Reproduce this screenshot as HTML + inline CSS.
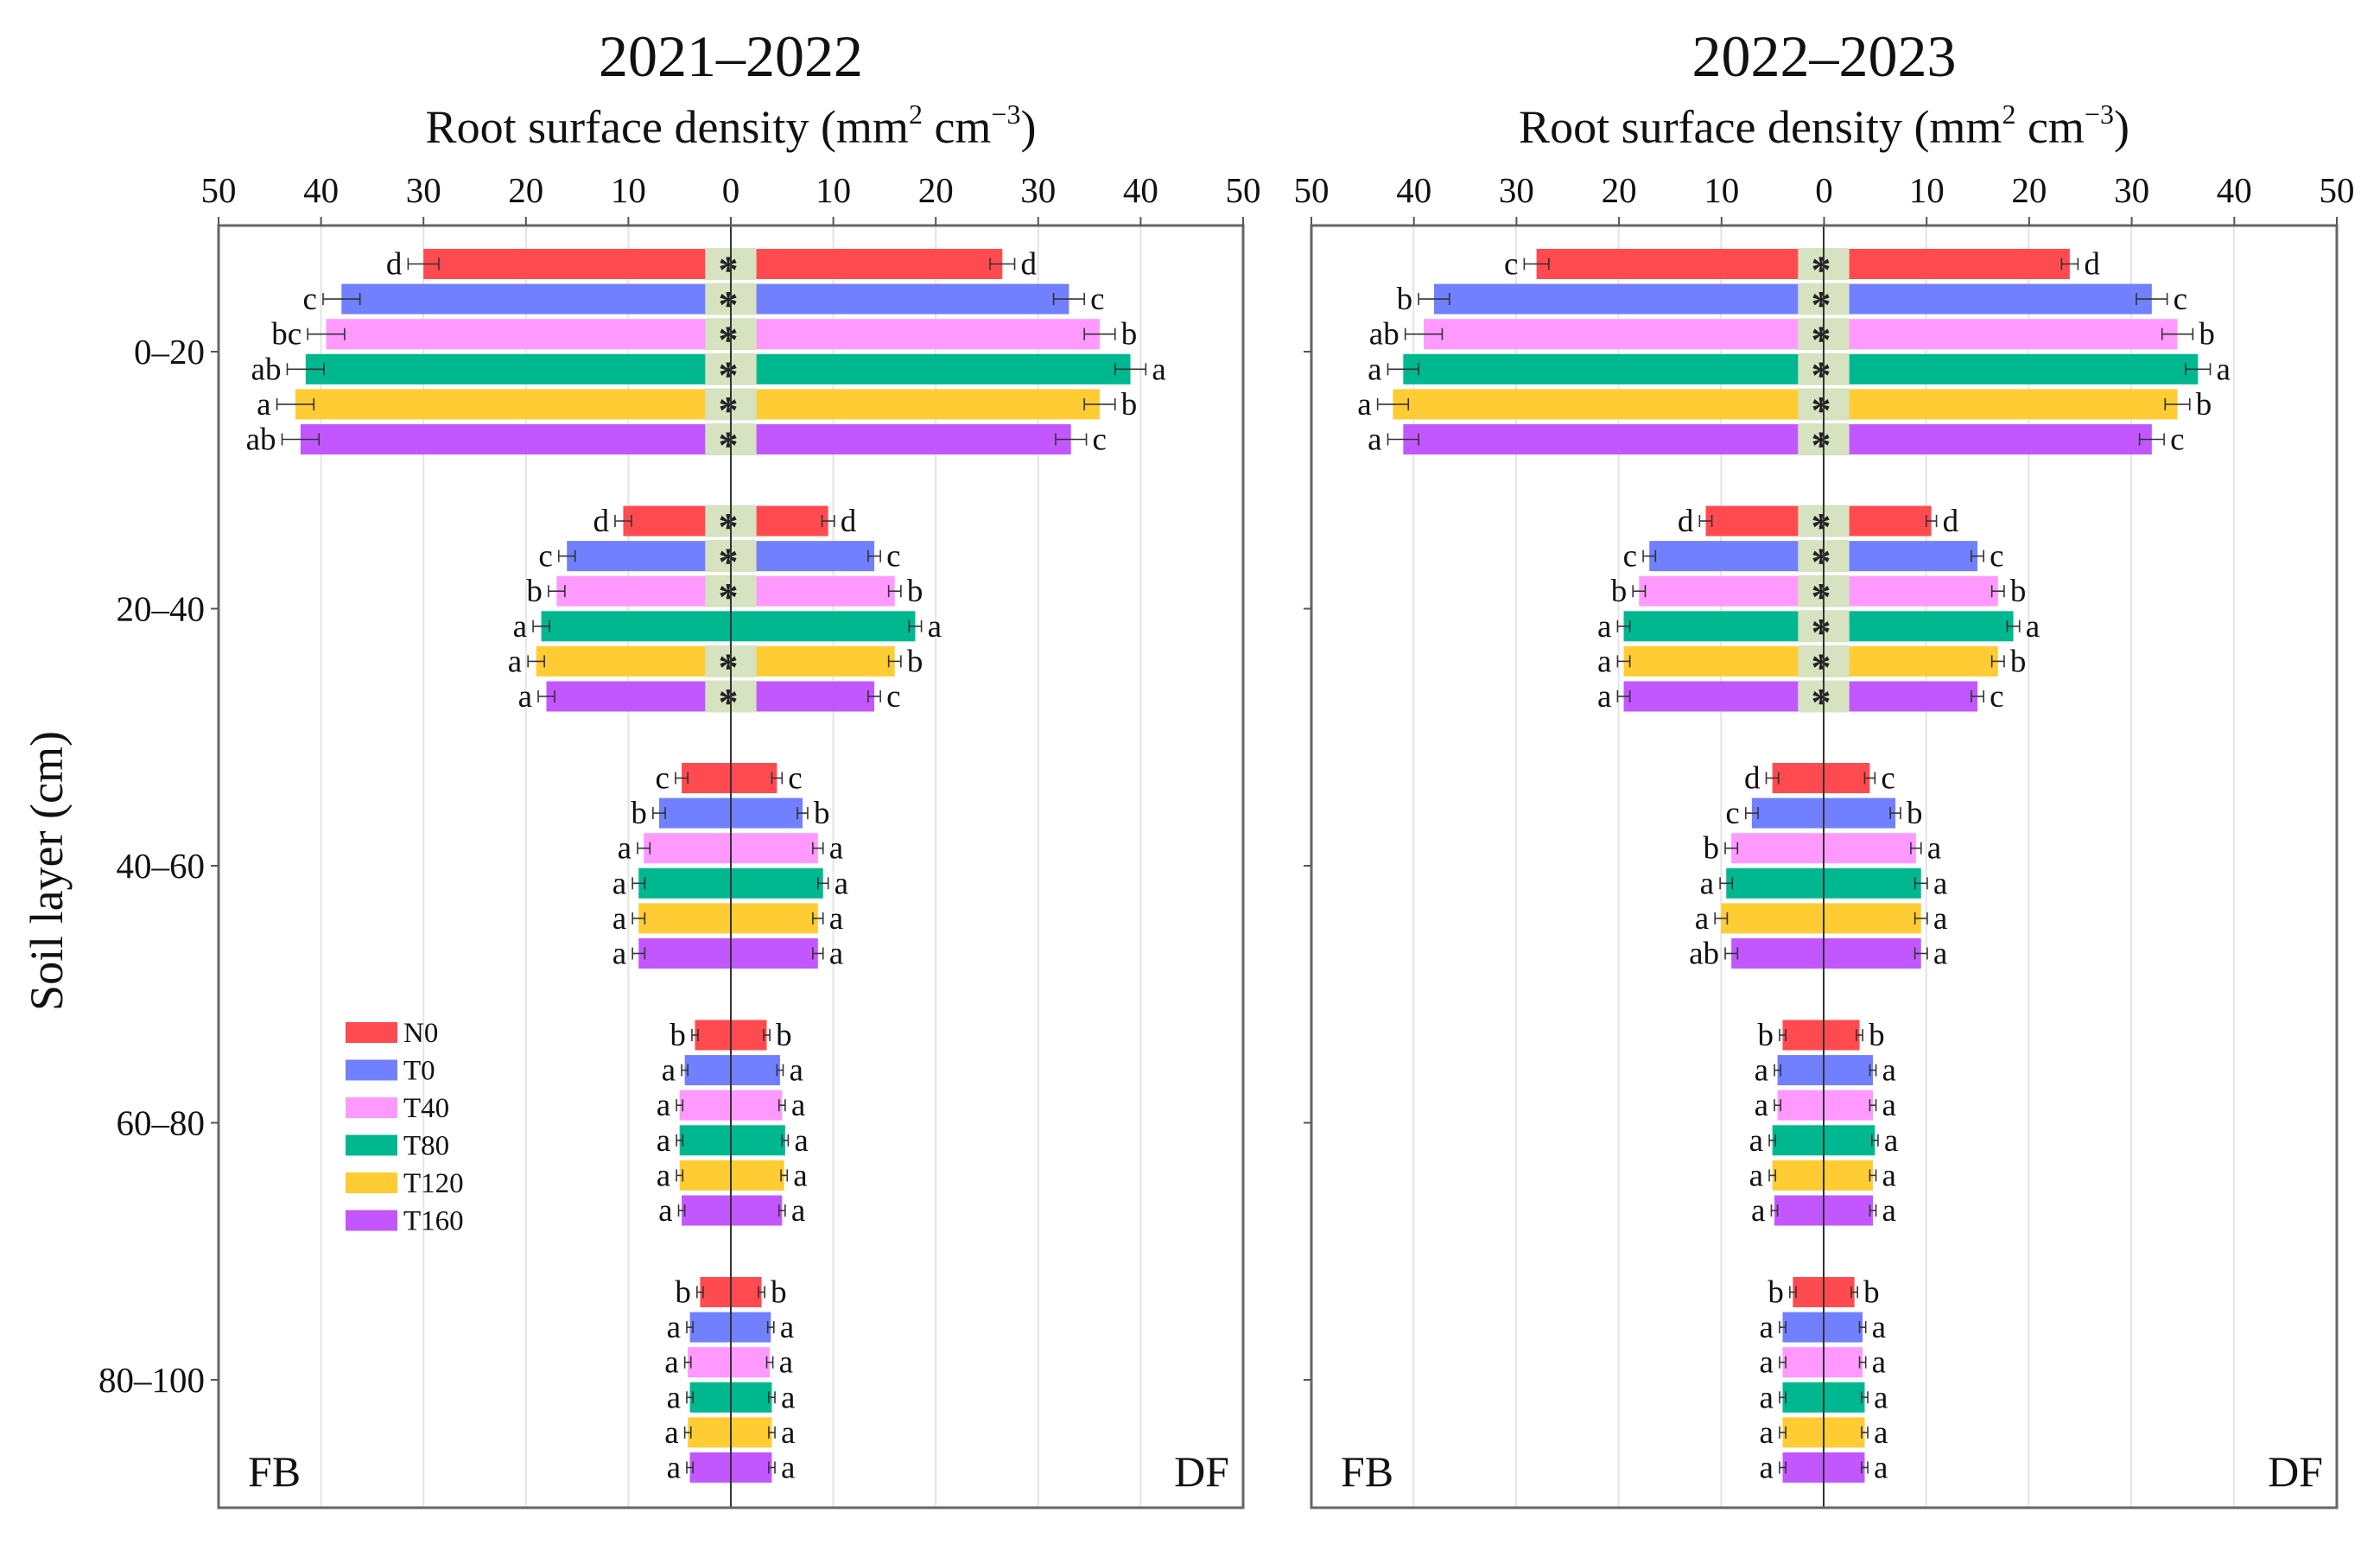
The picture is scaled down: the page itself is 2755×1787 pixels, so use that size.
<!DOCTYPE html>
<html><head><meta charset="utf-8">
<style>
html,body{margin:0;padding:0;background:#fff;}
svg{display:block;font-family:"Liberation Serif",serif;}
</style></head>
<body>
<svg id="chart" width="2755" height="1787" viewBox="0 0 2755 1787" xmlns="http://www.w3.org/2000/svg"></svg>
<script>
const treatments = ["N0","T0","T40","T80","T120","T160"];
const layers = ["0–20","20–40","40–60","60–80","80–100"];
const colors = ["#ff4a50","#7080ff","#ff99ff","#00b890","#ffcc33","#c257ff"];
const xTicks = [50,40,30,20,10,0,10,20,30,40,50];
// 2021-2022 FB (left) and DF (right), [layer][treatment]
const fb2021 = [[30,38,39.5,41.5,42.5,42],[10.5,16,17,18.5,19,18],[4.8,7,8.5,9,9,9],[3.5,4.5,5,5,5,4.8],[3,4,4.2,4,4.2,4]];
const df2021 = [[26.5,33,36,39,36,33.2],[9.5,14,16,18,16,14],[4.5,7,8.5,9,8.5,8.5],[3.5,4.8,5,5.3,5.2,5],[3,3.9,3.8,4,4,4]];
const fbErr2021 = [[1.5,1.8,1.8,1.8,1.8,1.8],[0.8,0.8,0.8,0.8,0.8,0.8],[0.6,0.6,0.6,0.6,0.6,0.6],[0.3,0.3,0.3,0.3,0.3,0.3],[0.3,0.3,0.3,0.3,0.3,0.3]];
const dfErr2021 = [[1.2,1.5,1.5,1.5,1.5,1.5],[0.6,0.6,0.6,0.6,0.6,0.6],[0.5,0.5,0.5,0.5,0.5,0.5],[0.3,0.3,0.3,0.3,0.3,0.3],[0.3,0.3,0.3,0.3,0.3,0.3]];
const fbLet2021 = [["d","c","bc","ab","a","ab"],["d","c","b","a","a","a"],["c","b","a","a","a","a"],["b","a","a","a","a","a"],["b","a","a","a","a","a"]];
const dfLet2021 = [["d","c","b","a","b","c"],["d","c","b","a","b","c"],["c","b","a","a","a","a"],["b","a","a","a","a","a"],["b","a","a","a","a","a"]];
const sig2021 = [[1,1,1,1,1,1],[1,1,1,0,1,1],[0,0,0,0,0,0],[0,0,0,0,0,0],[0,0,0,0,0,0]];
// 2022-2023
const fb2022 = [[28,38,39,41,42,41],[11.5,17,18,19.5,19.5,19.5],[5,7,9,9.5,10,9],[4,4.5,4.5,5,5,4.8],[3,4,4,4,4,4]];
const df2022 = [[24,32,34.5,36.5,34.5,32],[10.5,15,17,18.5,17,15],[4.5,7,9,9.5,9.5,9.5],[3.5,4.8,4.8,5,4.8,4.8],[3,3.8,3.8,4,4,4]];
const fbErr2022 = [[1.2,1.5,1.8,1.5,1.5,1.5],[0.6,0.6,0.6,0.6,0.6,0.6],[0.6,0.6,0.6,0.6,0.6,0.6],[0.3,0.3,0.3,0.3,0.3,0.3],[0.3,0.3,0.3,0.3,0.3,0.3]];
const dfErr2022 = [[0.8,1.5,1.5,1.2,1.2,1.2],[0.5,0.6,0.6,0.6,0.6,0.6],[0.5,0.5,0.5,0.6,0.6,0.6],[0.3,0.3,0.3,0.3,0.3,0.3],[0.3,0.3,0.3,0.3,0.3,0.3]];
const fbLet2022 = [["c","b","ab","a","a","a"],["d","c","b","a","a","a"],["d","c","b","a","a","ab"],["b","a","a","a","a","a"],["b","a","a","a","a","a"]];
const dfLet2022 = [["d","c","b","a","b","c"],["d","c","b","a","b","c"],["c","b","a","a","a","a"],["b","a","a","a","a","a"],["b","a","a","a","a","a"]];
const sig2022 = [[1,1,1,1,1,1],[1,1,1,1,1,1],[0,0,0,0,0,0],[0,0,0,0,0,0],[0,0,0,0,0,0]];

const NS="http://www.w3.org/2000/svg";
const svg=document.getElementById('chart');
function mk(tag,attrs,parent,text){const e=document.createElementNS(NS,tag);for(const k in attrs)e.setAttribute(k,attrs[k]);if(text!==undefined)e.textContent=text;(parent||svg).appendChild(e);return e;}
const TOP=261,BOT=1745,BARH=35,ROW=40.6,GSTEP=297.5,TICK0=407;
function yRow(g,i){return TICK0+g*GSTEP+(i-2.5)*ROW;}

function panel(x0,x1,zeroX,title,fb,df,fbE,dfE,fbL,dfL,sig,showY,idx){
  const g=mk('g',{});
  
  
  const u=(x1-x0)/100;
  const sx=v=>zeroX+v*u;
  for(let k=-4;k<=4;k++){if(k===0)continue;const gl=mk('line',{x1:sx(k*10),x2:sx(k*10),y1:TOP,y2:BOT,stroke:'#e4e4e4','stroke-width':2},g);}
  for(let l=0;l<layers.length;l++){for(let t=0;t<treatments.length;t++){
    const yc=yRow(l,t);const c=colors[t];
    const bl=mk('rect',{x:sx(-fb[l][t]),y:yc-BARH/2,width:fb[l][t]*u,height:BARH,fill:c},g);
    
    const br=mk('rect',{x:zeroX,y:yc-BARH/2,width:df[l][t]*u,height:BARH,fill:c},g);
    
    if(sig[l][t]){const bd=mk('rect',{x:sx(-2.5),y:yc-BARH/2-1,width:5*u,height:BARH+2,fill:'#d6e2c0'},g);
      const st=mk('text',{x:zeroX-3,y:yc+22,'font-size':46,'text-anchor':'middle',fill:'#222','font-weight':'bold'},g,'*');}
    const ee=[[-fb[l][t],fbE[l][t]],[df[l][t],dfE[l][t]]];
    ee.forEach(([v,e],side)=>{const a=sx(v-e),b=sx(v+e);
      const eg=mk('g',{stroke:'#333','stroke-width':1.6},g);
      mk('line',{x1:a,x2:b,y1:yc,y2:yc},eg);mk('line',{x1:a,x2:a,y1:yc-7,y2:yc+7},eg);mk('line',{x1:b,x2:b,y1:yc-7,y2:yc+7},eg);
      const lt=side===0?mk('text',{x:a-7,y:yc+12,'font-size':37,'text-anchor':'end',fill:'#111'},g,fbL[l][t]):mk('text',{x:b+7,y:yc+12,'font-size':37,'text-anchor':'start',fill:'#111'},g,dfL[l][t]);
      });
  }}
  const zl=mk('line',{x1:zeroX,x2:zeroX,y1:TOP,y2:BOT,stroke:'#333','stroke-width':2},g);
  const fr=mk('rect',{x:x0,y:TOP,width:x1-x0,height:BOT-TOP,fill:'none',stroke:'#666','stroke-width':3},g);
  xTicks.forEach((v,k)=>{const x=x0+k*10*u;mk('line',{x1:x,x2:x,y1:TOP-10,y2:TOP,stroke:'#555','stroke-width':2},g);
    const tl=mk('text',{x:x,y:TOP-27,'font-size':41,'text-anchor':'middle',fill:'#111'},g,String(v));});
  layers.forEach((lab,l)=>{const y=TICK0+l*GSTEP;mk('line',{x1:x0-9,x2:x0,y1:y,y2:y,stroke:'#555','stroke-width':2},g);
    if(showY){const yl=mk('text',{x:x0-16,y:y+14,'font-size':41,'text-anchor':'end',fill:'#111'},g,lab);}});
  const tt=mk('text',{x:(x0+x1)/2,y:88,'font-size':68,'text-anchor':'middle',fill:'#111'},g,title);
  const xt=mk('text',{x:(x0+x1)/2,y:165,'font-size':54,'text-anchor':'middle',fill:'#111'},g);
  
  mk('tspan',{},xt,'Root surface density (mm');mk('tspan',{dy:-22,'font-size':32},xt,'2');mk('tspan',{dy:22},xt,' cm');mk('tspan',{dy:-22,'font-size':32},xt,'−3');mk('tspan',{dy:22},xt,')');
  const f1=mk('text',{x:x0+34,y:1720,'font-size':50,fill:'#111'},g,'FB');
  const f2=mk('text',{x:x1-16,y:1720,'font-size':50,'text-anchor':'end',fill:'#111'},g,'DF');
}
panel(253,1439,846,'2021–2022',fb2021,df2021,fbErr2021,dfErr2021,fbLet2021,dfLet2021,sig2021,true,'2021-2022');
panel(1518,2705,2111,'2022–2023',fb2022,df2022,fbErr2022,dfErr2022,fbLet2022,dfLet2022,sig2022,false,'2022-2023');
const yt=mk('text',{x:0,y:0,'font-size':54,'text-anchor':'middle',fill:'#111',transform:'translate(72,1008) rotate(-90)'},svg,'Soil layer (cm)');

const lg=mk('g',{});

treatments.forEach((t,i)=>{const y=1194+i*43.5;
  const r=mk('rect',{x:400,y:y-11,width:60,height:24,fill:colors[i]},lg);
  const tx=mk('text',{x:467,y:y+12,'font-size':33,fill:'#111'},lg,t);});
</script>
</body></html>
